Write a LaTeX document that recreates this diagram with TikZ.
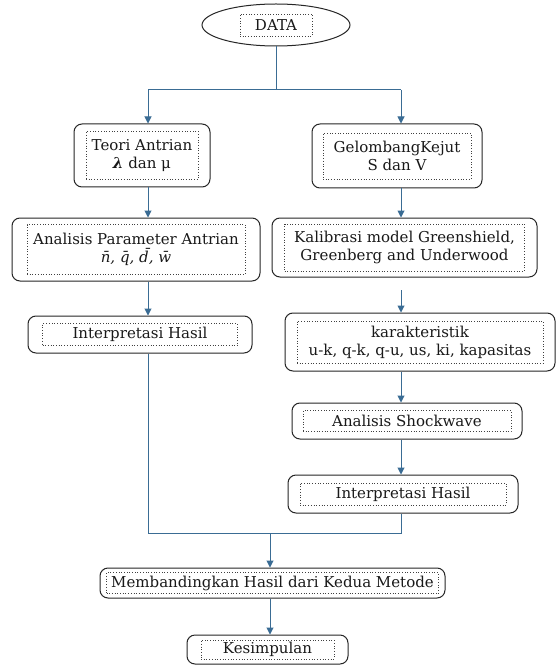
\documentclass[tikz,border=0pt]{standalone}
\usepackage{fontspec}
\setmainfont{DejaVu Serif}
\usetikzlibrary{arrows.meta,shapes.geometric}
\definecolor{arrowblue}{RGB}{58,108,148}
\begin{document}
\begin{tikzpicture}[x=1pt,y=-1pt,
  box/.style 2 args={draw=black!85, line width=1pt, rounded corners=8pt,
    minimum width=#1, minimum height=#2, inner sep=0pt},
  tbox/.style 2 args={draw=black!75, dotted, line width=0.7pt,
    minimum width=#1, minimum height=#2, inner sep=1pt, align=center,
    font=\fontsize{15}{18}\selectfont, text=black!90},
  link/.style={draw=arrowblue, line width=1pt},
  arr/.style={link, -{Triangle[length=7pt,width=7pt]}}]
\useasboundingbox[fill=white] (0,0) rectangle (556,668);

% DATA
\node[ellipse, draw=black!85, line width=1pt, minimum width=148pt, minimum height=42pt, inner sep=0pt] (data) at (276,25) {};
\node[tbox={72}{22}] (datat) at (data) {DATA};

% left column
\node[box={136}{63}] (teori) at (142,155.5) {};
\node[tbox={112}{48}] (teorit) at (teori) {Teori Antrian\\{\bfseries\itshape λ} dan μ};
\node[box={248}{63}] (param) at (136,249.5) {};
\node[tbox={218}{50}] (paramt) at (param) {Analisis Parameter Antrian\\{\itshape n̄, q̄, d̄, w̄}};
\node[box={224}{37}] (interpL) at (140,334.5) {};
\node[tbox={195}{22}] (interpLt) at (interpL) {Interpretasi Hasil};

% right column
\node[box={170}{64}] (gelo) at (397,156) {};
\node[tbox={148}{46}] (gelot) at (gelo) {GelombangKejut\\S dan V};
\node[box={265}{59}] (kalib) at (404.5,247.5) {};
\node[tbox={240}{47}] (kalibt) at (kalib) {Kalibrasi model Greenshield,\\Greenberg and Underwood};
\node[box={270}{58}] (karak) at (420,342) {};
\node[tbox={246}{42}] (karakt) at (karak) {karakteristik\\u-k, q-k, q-u, us, ki, kapasitas};
\node[box={230}{36}] (shock) at (407,421) {};
\node[tbox={208}{21}] (shockt) at (shock) {Analisis Shockwave};
\node[box={230}{38}] (interpR) at (403,494) {};
\node[tbox={206}{22}] (interpRt) at (interpR) {Interpretasi Hasil};

% bottom
\node[box={345}{30}] (banding) at (272.5,583) {};
\node[tbox={332}{21}] (bandingt) at (banding) {Membandingkan Hasil dari Kedua Metode};
\node[box={161}{29}] (simpul) at (267.5,649.5) {};
\node[tbox={133}{19}] (simpult) at (simpul) {Kesimpulan};

% connectors
\coordinate (j1) at (276,90);
\coordinate (cL) at (148,90);
\coordinate (cR) at (401,90);
\draw[link] (data.south) -- (j1);
\draw[link] (cL) -- (cR);
\draw[arr] (cL) -- (teori.north -| cL);
\draw[arr] (cR) -- (gelo.north -| cR);
\draw[arr] (teori.south -| cL) -- (param.north -| cL);
\draw[arr] (gelo.south -| cR) -- (kalib.north -| cR);
\draw[arr] (param.south -| cL) -- (interpL.north -| cL);
\coordinate (stub) at (401,290);
\draw[arr] (stub) -- (karak.north -| cR);
\draw[arr] (karak.south -| cR) -- (shock.north -| cR);
\draw[arr] (shock.south -| cR) -- (interpR.north -| cR);
\coordinate (mL) at (148,533);
\coordinate (mR) at (401,533);
\coordinate (mC) at (270,533);
\draw[link] (interpL.south -| cL) -- (mL) -- (mR) -- (interpR.south -| cR);
\draw[arr] (mC) -- (banding.north -| mC);
\draw[arr] (banding.south -| mC) -- (simpul.north -| mC);
\end{tikzpicture}
\end{document}
